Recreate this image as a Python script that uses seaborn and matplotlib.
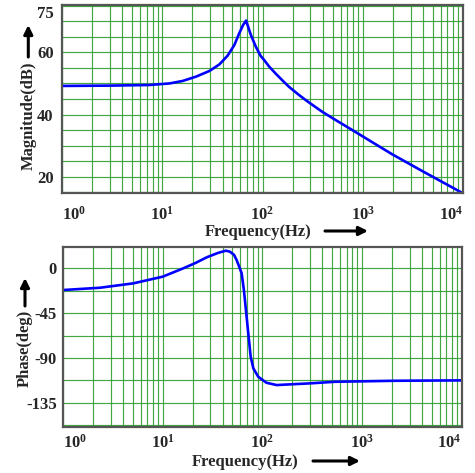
import numpy as np
import pandas as pd
import matplotlib
matplotlib.use("Agg")
import matplotlib.pyplot as plt
import seaborn as sns

# ---- data ----
mag_freq = [1, 3, 7.48, 11.8, 16.0, 21.8, 29.5, 37.1, 44.8, 52.3, 58.6, 64.1, 67.6, 68.6,
            71.9, 76.5, 85.8, 96, 104, 116, 135, 160, 184, 231, 279, 394, 552, 808, 1232,
            2000, 4000, 10000]
mag_db = [49.2, 49.3, 49.5, 50.0, 50.8, 52.2, 54.0, 56.1, 58.9, 62.3, 66.1, 68.8, 69.9, 70.2,
          68.2, 65.6, 61.8, 58.8, 57.5, 55.5, 53.2, 50.8, 48.9, 46.3, 44.3, 40.9, 38.0, 34.8, 31.2,
          27.1, 21.7, 14.7]

phase_freq = [1, 2.35, 5.07, 10, 16.1, 21.5, 27.6, 36, 43, 47.3, 52, 55.2, 58.6, 62, 65.3, 67.9,
              70.6, 73.4, 76.4, 81.2, 91, 110, 139, 189, 300, 535, 2140, 10000]
phase_deg = [-21.8, -19.5, -15.1, -8.4, 0, 5.5, 11, 15.5, 17.7, 16.7, 13.5, 8.3, 1.6, -5, -21.8, -38.6,
             -55.3, -72, -88.8, -100.4, -108.9, -114.9, -117.2, -116.5, -115.5, -113.9, -112.9, -112.5]

x_ticks = [1, 10, 100, 1000, 10000]
x_ticklabels = [r"$\mathbf{10^{0}}$", r"$\mathbf{10^{1}}$", r"$\mathbf{10^{2}}$",
                r"$\mathbf{10^{3}}$", r"$\mathbf{10^{4}}$"]
mag_ticks = [20, 40, 60, 75]
phase_ticks = [0, -45, -90, -135]

# ---- style ----
sns.set_style("white")
plt.rcParams["font.family"] = ["Liberation Serif", "DejaVu Serif"]
plt.rcParams["font.weight"] = "bold"
plt.rcParams["axes.unicode_minus"] = False
plt.rcParams["mathtext.fontset"] = "custom"
plt.rcParams["mathtext.rm"] = "Liberation Serif:bold"
plt.rcParams["mathtext.bf"] = "Liberation Serif:bold"
plt.rcParams["mathtext.it"] = "Liberation Serif:bold:italic"

W, H = 475, 473
fig = plt.figure(figsize=(W / 100, H / 100), dpi=100)

def fx(px):
    return px / W

def fy(py):
    return 1 - py / H

ax1 = fig.add_axes([fx(62), fy(193), fx(463) - fx(62), fy(5) - fy(193)])
ax2 = fig.add_axes([fx(63), fy(426.7), fx(461.7) - fx(63), fy(246.7) - fy(426.7)])

df_mag = pd.DataFrame({"freq": mag_freq, "mag": mag_db})
df_ph = pd.DataFrame({"freq": phase_freq, "phase": phase_deg})

sns.lineplot(data=df_mag, x="freq", y="mag", ax=ax1, color="#0000ff", lw=1.9,
             estimator=None, sort=False)
sns.lineplot(data=df_ph, x="freq", y="phase", ax=ax2, color="#0000ff", lw=1.9,
             estimator=None, sort=False)

grid_color = "#2f9e2f"
for ax in (ax1, ax2):
    ax.set_xscale("log")
    ax.set_xlim(1, 10000)
    ax.set_xticks(x_ticks)
    ax.set_xticklabels(x_ticklabels)
    ax.xaxis.set_minor_locator(matplotlib.ticker.LogLocator(base=10, subs=np.arange(2, 10)))
    ax.xaxis.set_minor_formatter(matplotlib.ticker.NullFormatter())
    ax.grid(True, which="both", color=grid_color, lw=0.85, alpha=0.9)
    ax.set_axisbelow(True)
    ax.tick_params(which="both", length=0, labelsize=12)
    for s in ax.spines.values():
        s.set_color("#555555")
        s.set_linewidth(1.6)
    ax.set_xlabel("")
    ax.set_ylabel("")

ax1.set_ylim(14.8, 75.2)
ax1.set_yticks(mag_ticks)
ax1.set_yticklabels([str(v) for v in mag_ticks])
ax1.set_yticks(np.arange(15, 76, 5), minor=True)
ax1.tick_params(axis="x", pad=9)
ax1.tick_params(axis="y", pad=6)

ax2.set_ylim(-159, 21.7)
ax2.set_yticks(phase_ticks)
ax2.set_yticklabels([str(v) for v in phase_ticks])
ax2.set_yticks(np.arange(-157.5, 1, 22.5), minor=True)
ax2.tick_params(axis="x", pad=5)
ax2.tick_params(axis="y", pad=4.5)

for ax in (ax1, ax2):
    for lab in ax.get_xticklabels() + ax.get_yticklabels():
        lab.set_fontweight("bold")
    xl = ax.get_xticklabels()
    xl[0].set_ha("left")
    xl[-1].set_ha("right")
ax1.get_yticklabels()[-1].set_va("top")

# ---- axis titles with arrows ----
fs = 12
fig.text(fx(28.3), fy(116), "Magnitude(dB)", rotation=90, ha="center", va="center",
         fontsize=fs, fontweight="bold")
fig.text(fx(25), fy(348), "Phase(deg)", rotation=90, ha="center", va="center",
         fontsize=fs, fontweight="bold")
fig.text(fx(258), fy(231.5), "Frequency(Hz)", ha="center", va="center",
         fontsize=fs, fontweight="bold")
fig.text(fx(245), fy(461.7), "Frequency(Hz)", ha="center", va="center",
         fontsize=fs, fontweight="bold")

arrow_kw = dict(arrowstyle="-|>", lw=2.2, color="black", mutation_scale=13,
                shrinkA=0, shrinkB=0)
fig.add_artist(matplotlib.patches.FancyArrowPatch((fx(28.3), fy(57)), (fx(28.3), fy(25)),
                                                  transform=fig.transFigure, **arrow_kw))
fig.add_artist(matplotlib.patches.FancyArrowPatch((fx(25), fy(306)), (fx(25), fy(278)),
                                                  transform=fig.transFigure, **arrow_kw))
fig.add_artist(matplotlib.patches.FancyArrowPatch((fx(325), fy(231)), (fx(368), fy(231)),
                                                  transform=fig.transFigure, **arrow_kw))
fig.add_artist(matplotlib.patches.FancyArrowPatch((fx(313), fy(461)), (fx(360), fy(461)),
                                                  transform=fig.transFigure, **arrow_kw))

fig.savefig("out.png", dpi=100)
